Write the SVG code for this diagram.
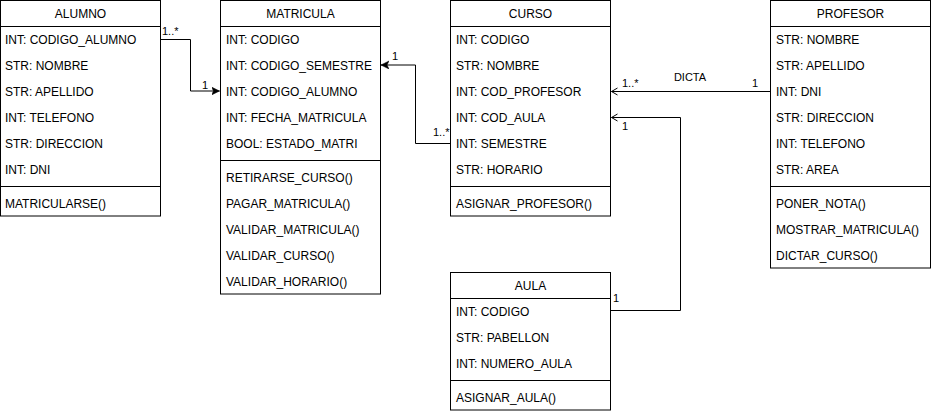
<svg xmlns="http://www.w3.org/2000/svg" width="931" height="414" viewBox="0 0 931 414">
<style>
.box{fill:#fff;stroke:#000;stroke-width:1}
.ln{stroke:#000;stroke-width:1;fill:none}
text{font-family:"Liberation Sans",Arial,sans-serif;font-size:12px;fill:#000}
.h{text-anchor:middle}
.lb{font-size:11px}
</style>
<defs>
<marker id="classic" markerUnits="userSpaceOnUse" markerWidth="10" markerHeight="10" refX="8" refY="4" orient="auto">
<path d="M0,0 L8,4 L0,8 L2,4 Z" fill="#000" stroke="#000" stroke-width="0.5"/>
</marker>
<marker id="open" markerUnits="userSpaceOnUse" markerWidth="10" markerHeight="10" refX="6.5" refY="4" orient="auto">
<path d="M0.5,0.5 L6.5,4 L0.5,7.5" fill="none" stroke="#000" stroke-width="1"/>
</marker>
</defs>

<g id="connectors">
<polyline class="ln" points="160.5,39.5 190.5,39.5 190.5,91 219.5,91" marker-end="url(#classic)"/>
<text class="lb" x="162" y="35">1..*</text>
<text class="lb" x="202" y="89">1</text>

<polyline class="ln" points="450.5,143.5 415.5,143.5 415.5,65 381,65" marker-end="url(#classic)"/>
<text class="lb" x="392" y="60">1</text>
<text class="lb" x="433" y="136">1..*</text>

<polyline class="ln" points="770.5,91.5 611.5,91.5" marker-end="url(#open)"/>
<text class="lb" x="690" y="81" text-anchor="middle">DICTA</text>
<text class="lb" x="622" y="87">1..*</text>
<text class="lb" x="752" y="87">1</text>

<polyline class="ln" points="610.5,310.5 680.5,310.5 680.5,117.5 611.5,117.5" marker-end="url(#open)"/>
<text class="lb" x="622" y="130">1</text>
<text class="lb" x="613" y="302">1</text>
</g>

<g id="alumno">
<rect class="box" x="0.5" y="0.5" width="160" height="215.5"/>
<line class="ln" x1="0.5" y1="26.5" x2="160.5" y2="26.5"/>
<line class="ln" x1="0.5" y1="186.5" x2="160.5" y2="186.5"/>
<text class="h" x="80.5" y="18">ALUMNO</text>
<text x="5" y="44">INT: CODIGO_ALUMNO</text>
<text x="5" y="70">STR: NOMBRE</text>
<text x="5" y="96">STR: APELLIDO</text>
<text x="5" y="122">INT: TELEFONO</text>
<text x="5" y="148">STR: DIRECCION</text>
<text x="5" y="174">INT: DNI</text>
<text x="5" y="208">MATRICULARSE()</text>
</g>

<g id="matricula">
<rect class="box" x="220.5" y="0.5" width="160" height="293.5"/>
<line class="ln" x1="220.5" y1="26.5" x2="380.5" y2="26.5"/>
<line class="ln" x1="220.5" y1="160.5" x2="380.5" y2="160.5"/>
<text class="h" x="300.5" y="18">MATRICULA</text>
<text x="226" y="44">INT: CODIGO</text>
<text x="226" y="70">INT: CODIGO_SEMESTRE</text>
<text x="226" y="96">INT: CODIGO_ALUMNO</text>
<text x="226" y="122">INT: FECHA_MATRICULA</text>
<text x="226" y="148">BOOL: ESTADO_MATRI</text>
<text x="226" y="182">RETIRARSE_CURSO()</text>
<text x="226" y="208">PAGAR_MATRICULA()</text>
<text x="226" y="234">VALIDAR_MATRICULA()</text>
<text x="226" y="260">VALIDAR_CURSO()</text>
<text x="226" y="286">VALIDAR_HORARIO()</text>
</g>

<g id="curso">
<rect class="box" x="450.5" y="0.5" width="160" height="215.5"/>
<line class="ln" x1="450.5" y1="26.5" x2="610.5" y2="26.5"/>
<line class="ln" x1="450.5" y1="186.5" x2="610.5" y2="186.5"/>
<text class="h" x="530.5" y="18">CURSO</text>
<text x="456" y="44">INT: CODIGO</text>
<text x="456" y="70">STR: NOMBRE</text>
<text x="456" y="96">INT: COD_PROFESOR</text>
<text x="456" y="122">INT: COD_AULA</text>
<text x="456" y="148">INT: SEMESTRE</text>
<text x="456" y="174">STR: HORARIO</text>
<text x="456" y="208">ASIGNAR_PROFESOR()</text>
</g>

<g id="profesor">
<rect class="box" x="770.5" y="0.5" width="160" height="267.5"/>
<line class="ln" x1="770.5" y1="26.5" x2="930.5" y2="26.5"/>
<line class="ln" x1="770.5" y1="186.5" x2="930.5" y2="186.5"/>
<text class="h" x="850.5" y="18">PROFESOR</text>
<text x="776" y="44">STR: NOMBRE</text>
<text x="776" y="70">STR: APELLIDO</text>
<text x="776" y="96">INT: DNI</text>
<text x="776" y="122">STR: DIRECCION</text>
<text x="776" y="148">INT: TELEFONO</text>
<text x="776" y="174">STR: AREA</text>
<text x="776" y="208">PONER_NOTA()</text>
<text x="776" y="234">MOSTRAR_MATRICULA()</text>
<text x="776" y="260">DICTAR_CURSO()</text>
</g>

<g id="aula">
<rect class="box" x="450.5" y="272.5" width="160" height="137.5"/>
<line class="ln" x1="450.5" y1="298.5" x2="610.5" y2="298.5"/>
<line class="ln" x1="450.5" y1="380.5" x2="610.5" y2="380.5"/>
<text class="h" x="530.5" y="290">AULA</text>
<text x="456" y="316">INT: CODIGO</text>
<text x="456" y="342">STR: PABELLON</text>
<text x="456" y="368">INT: NUMERO_AULA</text>
<text x="456" y="402">ASIGNAR_AULA()</text>
</g>
</svg>
